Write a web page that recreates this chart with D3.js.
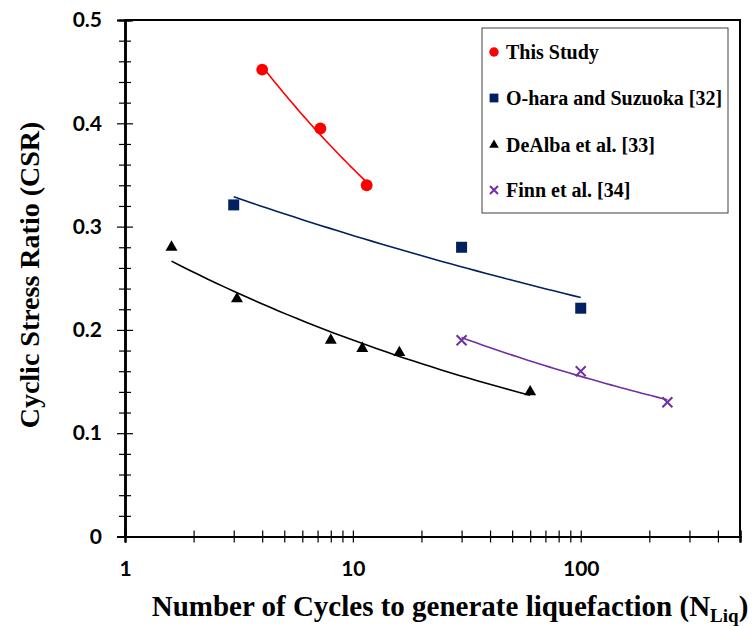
<!DOCTYPE html>
<html>
<head>
<meta charset="utf-8">
<script src="https://cdn.jsdelivr.net/npm/d3@7"></script>
<style>
  body { margin: 0; background: #fff; }
  svg { display: block; }
</style>
</head>
<body>
<div id="chart"></div>
<script>
// data
const thisStudyN = [4, 7.2, 11.5];
const thisStudyCSR = [0.452, 0.395, 0.34];
const oharaN = [3, 30, 100];
const oharaCSR = [0.321, 0.28, 0.221];
const dealbaN = [1.6, 3.1, 8, 11, 16, 60];
const dealbaCSR = [0.28, 0.23, 0.19, 0.182, 0.178, 0.14];
const finnN = [30, 100, 240];
const finnCSR = [0.19, 0.16, 0.13];

const seriesNames = ['This Study', 'O-hara and Suzuoka [32]', 'DeAlba et al. [33]', 'Finn et al. [34]'];
const xMajorTicks = [1, 10, 100];
const xMinorTicks = [2, 3, 4, 5, 6, 7, 8, 9, 20, 30, 40, 50, 60, 70, 80, 90, 200, 300, 400, 500];
const yMajorTicks = [0, 0.1, 0.2, 0.3, 0.4, 0.5];
const yMinorTicks = [0.02, 0.04, 0.06, 0.08, 0.12, 0.14, 0.16, 0.18, 0.22, 0.24, 0.26, 0.28,
                     0.32, 0.34, 0.36, 0.38, 0.42, 0.44, 0.46, 0.48];

const W = 756, H = 626;
const pLeft = 125, pRight = 740, pTop = 20, pBottom = 536.5;

const svg = d3.select('#chart').append('svg')
    .attr('width', W)
    .attr('height', H);

const x = d3.scaleLog().domain([1, 500]).range([pLeft, pRight]);
const y = d3.scaleLinear().domain([0, 0.5]).range([pBottom, pTop]);

// frame (top + right)
svg.append('path')
    .attr('d', `M${pLeft},${pTop}H${pRight}V${pBottom}`)
    .attr('fill', 'none')
    .attr('stroke', '#000')
    .attr('stroke-width', 2);

const tickFont = 'Lato, "Open Sans", sans-serif';
const serif = '"Liberation Serif", "Times New Roman", serif';

// y axis - ticks cross the line, so draw left + right halves
svg.append('g')
    .attr('transform', `translate(${pLeft},0)`)
    .call(d3.axisLeft(y).tickValues(yMajorTicks).tickSize(8).tickPadding(15)
        .tickFormat(d => d === 0 ? '0' : d3.format('.1f')(d)));
svg.append('g')
    .attr('transform', `translate(${pLeft},0)`)
    .call(d3.axisRight(y).tickValues(yMajorTicks).tickSize(8).tickFormat(''));
svg.append('g')
    .attr('transform', `translate(${pLeft},0)`)
    .call(d3.axisLeft(y).tickValues(yMinorTicks).tickSize(6).tickFormat(''));
svg.append('g')
    .attr('transform', `translate(${pLeft},0)`)
    .call(d3.axisRight(y).tickValues(yMinorTicks).tickSize(6).tickFormat(''));

// x axis
svg.append('g')
    .attr('transform', `translate(0,${pBottom})`)
    .call(d3.axisBottom(x).tickValues(xMajorTicks).tickSize(6).tickPadding(19)
        .tickFormat(d3.format('d')));
svg.append('g')
    .attr('transform', `translate(0,${pBottom})`)
    .call(d3.axisTop(x).tickValues(xMajorTicks).tickSize(6).tickFormat(''));
svg.append('g')
    .attr('transform', `translate(0,${pBottom})`)
    .call(d3.axisBottom(x).tickValues(xMinorTicks).tickSize(6).tickFormat(''));
svg.append('g')
    .attr('transform', `translate(0,${pBottom})`)
    .call(d3.axisTop(x).tickValues(xMinorTicks).tickSize(6).tickFormat(''));

svg.selectAll('.domain').attr('stroke', '#000').attr('stroke-width', 2);
svg.selectAll('.tick line').attr('stroke', '#000').attr('stroke-width', 1.2);
svg.selectAll('.tick text')
    .attr('fill', '#000')
    .style('font-family', tickFont)
    .style('font-weight', 'bold')
    .style('font-size', '21px');

// axis titles
const xTitle = svg.append('text')
    .attr('x', 450)
    .attr('y', 616)
    .attr('text-anchor', 'middle')
    .style('font-family', serif)
    .style('font-weight', 'bold')
    .style('font-size', '29px');
xTitle.append('tspan').text('Number of Cycles to generate liquefaction (N');
xTitle.append('tspan').attr('dy', 6).style('font-size', '19px').text('Liq');
xTitle.append('tspan').attr('dy', -6).text(')');

svg.append('text')
    .attr('transform', `translate(39,275) rotate(-90)`)
    .attr('text-anchor', 'middle')
    .style('font-family', serif)
    .style('font-weight', 'bold')
    .style('font-size', '28px')
    .text('Cyclic Stress Ratio (CSR)');

// power trendline: CSR = a * N^b, least squares in log-log space
const powerFit = (ns, cs) => {
    const lx = ns.map(Math.log), ly = cs.map(Math.log);
    const mx = d3.mean(lx), my = d3.mean(ly);
    const b = d3.sum(lx, (v, i) => (v - mx) * (ly[i] - my)) / d3.sum(lx, v => (v - mx) * (v - mx));
    const a = Math.exp(my - b * mx);
    const n0 = d3.min(ns), n1 = d3.max(ns);
    return d3.range(0, 41).map(i => {
        const n = n0 * Math.pow(n1 / n0, i / 40);
        return [n, a * Math.pow(n, b)];
    });
};

const series = [
    { name: seriesNames[0], n: thisStudyN, c: thisStudyCSR, color: '#ff0000', shape: 'circle' },
    { name: seriesNames[1], n: oharaN, c: oharaCSR, color: '#002060', shape: 'square' },
    { name: seriesNames[2], n: dealbaN, c: dealbaCSR, color: '#000000', shape: 'triangle' },
    { name: seriesNames[3], n: finnN, c: finnCSR, color: '#7030a0', shape: 'cross' }
];

const line = d3.line().x(d => x(d[0])).y(d => y(d[1]));

const drawMarker = (g, shape, color, scale) => {
    if (shape === 'cross') {
        const s = 5 * scale;
        g.append('path')
            .attr('d', `M${-s},${-s}L${s},${s}M${-s},${s}L${s},${-s}`)
            .attr('stroke', color)
            .attr('stroke-width', 2)
            .attr('fill', 'none');
    } else {
        const sym = { circle: d3.symbolCircle, square: d3.symbolSquare, triangle: d3.symbolTriangle }[shape];
        const size = { circle: 110, square: 121, triangle: 62 }[shape];
        g.append('path')
            .attr('d', d3.symbol().type(sym).size(size * scale * scale)())
            .attr('fill', color);
    }
};

series.forEach(s => {
    svg.append('path')
        .datum(powerFit(s.n, s.c))
        .attr('d', line)
        .attr('fill', 'none')
        .attr('stroke', s.color)
        .attr('stroke-width', 1.6);
});

series.forEach(s => {
    s.n.forEach((n, i) => {
        const g = svg.append('g')
            .attr('transform', `translate(${x(n)},${y(s.c[i])})`);
        drawMarker(g, s.shape, s.color, 1);
    });
});

// legend
const legend = svg.append('g');
legend.append('rect')
    .attr('x', 482)
    .attr('y', 28)
    .attr('width', 246)
    .attr('height', 185)
    .attr('fill', '#fff')
    .attr('stroke', '#404040')
    .attr('stroke-width', 1);
const legendY = [52, 98, 145, 190];
series.forEach((s, i) => {
    const g = legend.append('g').attr('transform', `translate(494,${legendY[i]})`);
    drawMarker(g, s.shape, s.color, 0.8);
    legend.append('text')
        .attr('x', 506)
        .attr('y', legendY[i])
        .attr('dy', '0.35em')
        .style('font-family', serif)
        .style('font-weight', 'bold')
        .style('font-size', '20px')
        .text(s.name);
});
</script>
</body>
</html>
